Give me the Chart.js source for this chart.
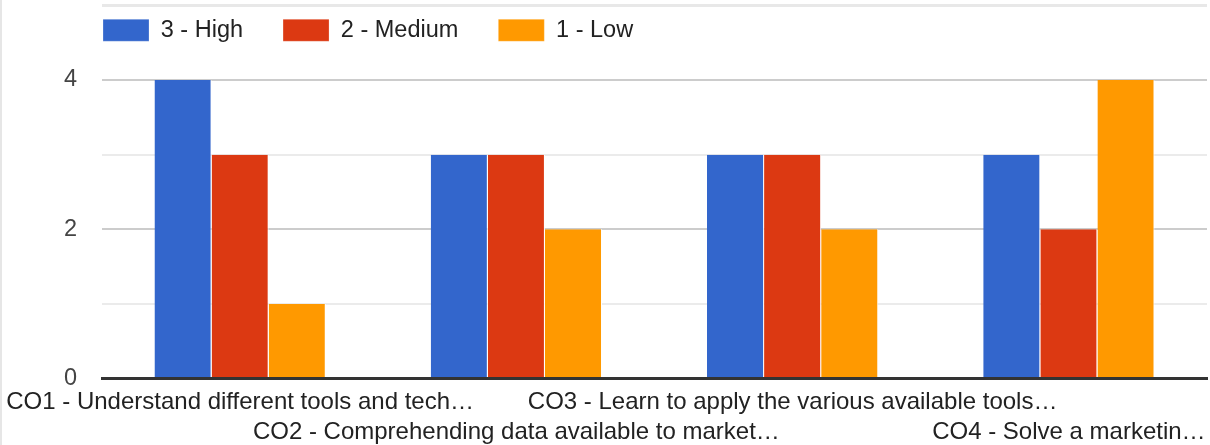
<!DOCTYPE html>
<html>
<head>
<meta charset="utf-8">
<script src="https://cdn.jsdelivr.net/npm/chart.js@4.4.1/dist/chart.umd.min.js"></script>
<style>
  html, body { margin: 0; padding: 0; background: #fff; }
  #wrap { position: relative; width: 1210px; height: 445px; overflow: hidden; }
  #topline { position: absolute; left: 102px; top: 4px; width: 1105px; height: 3px; background: #e8e8e8; }
  #leftline { position: absolute; left: 0; top: 0; width: 2px; height: 445px; background: #e6e6e6; }
</style>
</head>
<body>
<div id="wrap">
  <canvas id="c"></canvas>
  <div id="topline"></div>
  <div id="leftline"></div>
</div>
<script>
const categories = [
  "CO1 - Understand different tools and tech…",
  "CO2 - Comprehending data available to market…",
  "CO3 - Learn to apply the various available tools…",
  "CO4 - Solve a marketin…"
];
const seriesNames = ["3 - High", "2 - Medium", "1 - Low"];
const highValues = [4, 3, 3, 3];
const mediumValues = [3, 3, 3, 2];
const lowValues = [1, 2, 2, 4];
const yTickLabels = [0, 2, 4];

const FONT = "'Liberation Sans', Arial, sans-serif";
const staggered = categories.map((c, i) => i % 2 === 0 ? [c, ""] : ["", c]);

const legendShift = {
  id: 'legendShift',
  afterLayout(chart) {
    if (chart.legend) {
      chart.legend.left = 63;
      chart.legend.top = -21.5;
    }
  }
};

const barStyle = { borderWidth: { top: 0, left: 0, bottom: 0, right: 1 }, borderColor: '#ffffff', borderSkipped: false };

new Chart(document.getElementById('c'), {
  type: 'bar',
  data: {
    labels: staggered,
    datasets: [
      Object.assign({ label: seriesNames[0], data: highValues, backgroundColor: '#3366cc' }, barStyle),
      Object.assign({ label: seriesNames[1], data: mediumValues, backgroundColor: '#dc3912' }, barStyle),
      Object.assign({ label: seriesNames[2], data: lowValues, backgroundColor: '#ff9900' }, barStyle)
    ]
  },
  options: {
    responsive: true,
    maintainAspectRatio: false,
    animation: false,
    layout: { padding: { top: 6.5, right: 3, left: 0, bottom: 0 } },
    datasets: { bar: { barPercentage: 1, categoryPercentage: 0.62 } },
    plugins: {
      tooltip: { enabled: false },
      legend: {
        position: 'top',
        align: 'start',
        labels: {
          boxWidth: 46,
          boxHeight: 22,
          padding: 40,
          color: '#222',
          font: { family: FONT, size: 23.5 }
        }
      }
    },
    scales: {
      x: {
        grid: { display: false, drawTicks: false },
        border: { display: true, color: '#333', width: 3, z: 1 },
        ticks: {
          autoSkip: false,
          maxRotation: 0,
          minRotation: 0,
          padding: 9,
          color: '#222',
          font: { family: FONT, size: 24, lineHeight: 1.25 }
        },
        afterFit(scale) {
          scale.paddingLeft = 0;
          scale.paddingRight = 0;
          scale.height = 66.5;
        }
      },
      y: {
        min: 0,
        max: 4,
        border: { display: false },
        grid: {
          drawTicks: false,
          lineWidth: 2,
          color: (ctx) => {
            const v = ctx.tick ? ctx.tick.value : null;
            if (v === 0) return 'rgba(0,0,0,0)';
            return yTickLabels.includes(v) ? '#cccccc' : '#ebebeb';
          }
        },
        ticks: {
          stepSize: 1,
          padding: 25,
          color: '#444',
          font: { family: FONT, size: 23.5 },
          callback: (v) => yTickLabels.includes(v) ? String(v) : ''
        },
        afterFit(scale) {
          scale.width = 102;
        }
      }
    }
  },
  plugins: [legendShift]
});
</script>
</body>
</html>
